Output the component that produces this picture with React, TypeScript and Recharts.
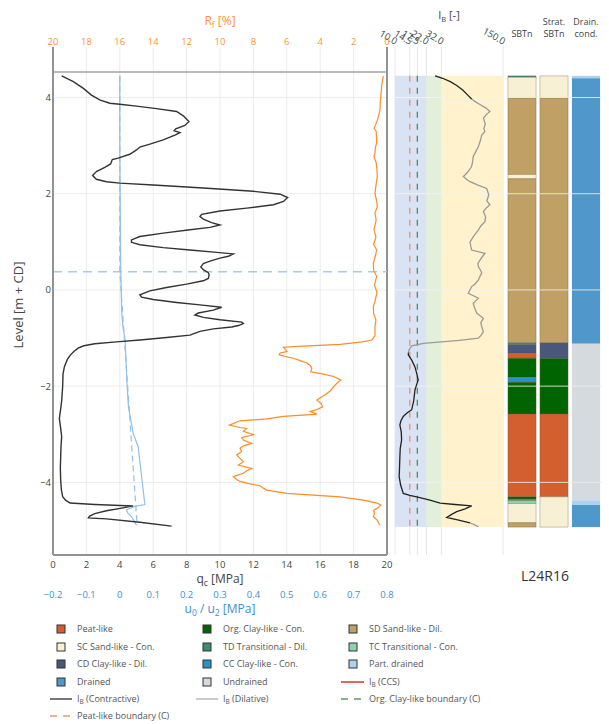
import React from 'react';
import {
  ScatterChart,
  Scatter,
  XAxis,
  YAxis,
  CartesianGrid,
  ReferenceLine,
  ReferenceArea,
} from 'recharts';

const FONT = '"Open Sans", "DejaVu Sans", sans-serif';
const ORANGE = '#ff9233';
const ORANGE_LINE = '#ff8c26';
const BLUE = '#3d8fd1';
const BLUE_LINE = '#92c0e6';
const TEXT = '#444';

// ---- axis ticks ----
const qcTicks = [0, 2, 4, 6, 8, 10, 12, 14, 16, 18, 20];
const rfTicks = [20, 18, 16, 14, 12, 10, 8, 6, 4, 2, 0];
const uTicks = [-0.2, -0.1, 0, 0.1, 0.2, 0.3, 0.4, 0.5, 0.6, 0.7, 0.8];
const levelTicks = [-4, -2, 0, 2, 4];
const ibTicks = [10, 14.5, 17.5, 22, 32, 150];
const levelDomain: [number, number] = [-5.51, 5.05];

// ---- site levels ----
const groundLevel = 4.53;
const waterLevel = 0.38;
const profileTop = 4.45;
const profileBottom = -4.93;

// ---- cone resistance qc [MPa] : [level, qc] ----
const qcProfile: [number, number][] = [
  [4.45, 0.52], [4.33, 1.22], [4.19, 1.82], [4.05, 2.3], [3.95, 2.8], [3.88, 3.4],
  [3.86, 4.0], [3.82, 5.0], [3.77, 6.2], [3.71, 7.4], [3.62, 7.8], [3.5, 8.14],
  [3.42, 7.9], [3.35, 7.35], [3.31, 7.25], [3.27, 7.6], [3.22, 7.3], [3.12, 6.6],
  [3.03, 5.8], [2.97, 5.2], [2.91, 5.0], [2.82, 4.6], [2.74, 3.9], [2.71, 3.55],
  [2.62, 3.45], [2.55, 3.1], [2.46, 2.6], [2.38, 2.37], [2.3, 2.6], [2.25, 3.2],
  [2.22, 4.0], [2.18, 6.0], [2.12, 9.0], [2.05, 12.0], [1.99, 13.6], [1.92, 14.05],
  [1.84, 13.8], [1.77, 13.2], [1.7, 11.6], [1.64, 10.0], [1.57, 8.9], [1.53, 8.8],
  [1.47, 9.0], [1.4, 9.5], [1.35, 10.0], [1.3, 9.4], [1.25, 8.2], [1.18, 6.6],
  [1.11, 5.2], [1.04, 4.7], [0.99, 4.7], [0.94, 5.2], [0.88, 6.6], [0.83, 8.2],
  [0.78, 9.8], [0.75, 10.8], [0.7, 10.5], [0.66, 10.0], [0.6, 9.4], [0.55, 9.0],
  [0.48, 8.85], [0.42, 9.0], [0.36, 9.3], [0.31, 9.35], [0.24, 9.3], [0.19, 9.0],
  [0.12, 8.0], [0.05, 6.8], [-0.02, 5.8], [-0.1, 5.2], [-0.15, 5.3], [-0.2, 6.0],
  [-0.26, 7.4], [-0.31, 8.8], [-0.36, 10.1], [-0.42, 9.6], [-0.48, 8.7], [-0.52, 8.5],
  [-0.57, 9.0], [-0.62, 10.0], [-0.67, 11.3], [-0.7, 11.4], [-0.74, 11.1], [-0.77, 10.7],
  [-0.81, 9.6], [-0.86, 8.8], [-0.94, 8.2], [-0.99, 6.8], [-1.04, 5.2], [-1.08, 3.8],
  [-1.12, 2.5], [-1.16, 1.85], [-1.21, 1.5], [-1.28, 1.25], [-1.35, 1.05], [-1.45, 0.85],
  [-1.6, 0.68], [-1.75, 0.6], [-2.0, 0.58], [-2.3, 0.52], [-2.5, 0.45], [-2.67, 0.38],
  [-2.85, 0.45], [-3.05, 0.52], [-3.25, 0.48], [-3.47, 0.46], [-3.7, 0.44], [-3.95, 0.46],
  [-4.15, 0.5], [-4.3, 0.58], [-4.37, 0.75], [-4.43, 1.02], [-4.46, 2.5], [-4.49, 4.8],
  [-4.53, 4.2], [-4.59, 3.2], [-4.65, 2.5], [-4.7, 2.2], [-4.74, 2.12], [-4.76, 3.2],
  [-4.83, 5.2], [-4.91, 7.1],
];

// ---- friction ratio Rf [%] : [level, Rf] ----
const rfProfile: [number, number][] = [
  [4.45, 0.22], [4.3, 0.3], [4.1, 0.35], [3.9, 0.4], [3.74, 0.42], [3.55, 0.55],
  [3.4, 0.72], [3.36, 0.78], [3.3, 0.65], [3.15, 0.62], [3.06, 0.62], [2.95, 0.7],
  [2.85, 0.72], [2.77, 0.78], [2.65, 0.65], [2.5, 0.6], [2.36, 0.58], [2.2, 0.65],
  [2.01, 0.72], [1.85, 0.62], [1.73, 0.58], [1.6, 0.72], [1.45, 0.65], [1.25, 0.78],
  [1.1, 0.66], [0.95, 0.8], [0.83, 0.62], [0.7, 0.7], [0.55, 0.82], [0.41, 0.8],
  [0.28, 0.62], [0.1, 0.75], [-0.05, 0.6], [-0.24, 0.72], [-0.35, 0.82], [-0.5, 0.8],
  [-0.62, 0.66], [-0.76, 0.72], [-0.95, 0.72], [-1.04, 0.9], [-1.08, 1.5], [-1.13, 2.8],
  [-1.17, 5.0], [-1.19, 6.2], [-1.23, 6.1], [-1.28, 6.0], [-1.31, 6.4], [-1.35, 6.45],
  [-1.4, 5.9], [-1.42, 5.6], [-1.47, 5.2], [-1.52, 4.8], [-1.57, 4.6], [-1.63, 4.5],
  [-1.7, 4.57], [-1.75, 3.8], [-1.8, 3.2], [-1.87, 2.77], [-1.94, 3.0], [-2.01, 3.2],
  [-2.1, 3.4], [-2.18, 3.7], [-2.24, 4.0], [-2.29, 4.2], [-2.36, 3.95], [-2.43, 3.85],
  [-2.5, 4.3], [-2.53, 4.6], [-2.58, 4.2], [-2.63, 6.2], [-2.68, 7.2], [-2.72, 8.8],
  [-2.81, 9.44], [-2.86, 8.8], [-2.88, 8.4], [-2.94, 8.6], [-3.01, 8.0], [-3.07, 8.7],
  [-3.12, 8.6], [-3.19, 8.1], [-3.24, 8.6], [-3.29, 8.8], [-3.36, 8.7], [-3.43, 9.0],
  [-3.5, 8.8], [-3.57, 8.6], [-3.64, 8.9], [-3.71, 8.1], [-3.76, 8.4], [-3.81, 8.6],
  [-3.88, 9.2], [-3.94, 9.0], [-3.98, 8.8], [-4.03, 8.2], [-4.07, 7.6], [-4.12, 7.4],
  [-4.16, 7.2], [-4.23, 6.0], [-4.3, 2.8], [-4.37, 1.42], [-4.43, 0.6], [-4.47, 0.38],
  [-4.52, 0.5], [-4.58, 0.8], [-4.65, 0.75], [-4.71, 0.82], [-4.78, 0.6], [-4.89, 0.42],
];

// ---- pore pressure u2 [MPa] : [level, u2] ----
const u2Profile: [number, number][] = [
  [4.45, 0.0], [3.0, 0.0], [1.0, 0.002], [0.38, 0.003], [-0.5, 0.006], [-0.8, 0.01],
  [-1.04, 0.016], [-1.4, 0.018], [-2.0, 0.022], [-2.43, 0.026], [-2.98, 0.04],
  [-3.26, 0.055], [-4.46, 0.075], [-4.5, 0.045], [-4.57, 0.02], [-4.64, 0.024],
  [-4.71, 0.035], [-4.89, 0.05],
];

// ---- hydrostatic pressure u0 [MPa] : [level, u0] ----
const u0Profile: [number, number][] = [
  [4.45, 0.0], [0.38, 0.0], [-4.9, 0.052],
];

// ---- behaviour index IB [-] : [level, IB] ----
const ibContractiveTop: [number, number][] = [
  [4.45, 27.3], [4.4, 33], [4.33, 40], [4.25, 47], [4.15, 55], [4.05, 62], [3.97, 68.4],
];
const ibDilative: [number, number][] = [
  [3.97, 68.4], [3.92, 74], [3.85, 85], [3.78, 98], [3.71, 108], [3.64, 98], [3.57, 92],
  [3.45, 96], [3.35, 93], [3.29, 95], [3.22, 88], [3.1, 85], [2.98, 81], [2.88, 76],
  [2.77, 71], [2.66, 70], [2.56, 68], [2.45, 62], [2.39, 57.7], [2.36, 55.5], [2.3, 60],
  [2.25, 65.6], [2.18, 80], [2.11, 99.6], [1.98, 105], [1.85, 100], [1.77, 108], [1.7, 98],
  [1.63, 91.7], [1.52, 97], [1.42, 95.4], [1.33, 86], [1.25, 81], [1.12, 72], [1.0, 65.6],
  [0.9, 67], [0.83, 68.4], [0.76, 95.4], [0.7, 90], [0.62, 84.2], [0.55, 80], [0.48, 81],
  [0.4, 86], [0.35, 88], [0.28, 84], [0.21, 81], [0.12, 74], [0.07, 68.4], [-0.07, 62.8],
  [-0.17, 81], [-0.28, 71], [-0.38, 74], [-0.48, 77.5], [-0.59, 91.7], [-0.68, 86],
  [-0.76, 88], [-0.87, 91.7], [-0.95, 86], [-1.0, 81], [-1.05, 50], [-1.11, 20.4],
  [-1.16, 15.2], [-1.25, 14.2], [-1.3, 14.0],
];
const ibContractiveBottom: [number, number][] = [
  [-1.3, 14.0], [-1.35, 13.96], [-1.46, 15.2], [-1.6, 16.5], [-1.73, 17.2], [-1.87, 17.9],
  [-2.0, 17.0], [-2.08, 16.5], [-2.3, 16.0], [-2.49, 15.2], [-2.56, 13.5], [-2.63, 12.3],
  [-2.72, 11.6], [-2.81, 11.3], [-2.95, 11.7], [-3.12, 11.8], [-3.3, 11.4], [-3.47, 11.3],
  [-3.7, 11.2], [-3.88, 11.1], [-4.05, 11.5], [-4.23, 12.3], [-4.27, 14.5], [-4.3, 17.2],
  [-4.37, 24], [-4.43, 31], [-4.46, 45], [-4.49, 68.4], [-4.55, 58], [-4.61, 47],
  [-4.67, 41], [-4.73, 36.6], [-4.78, 48], [-4.84, 65.6],
];
const ibDilativeBottom: [number, number][] = [
  [-4.84, 65.6], [-4.92, 81],
];

// ---- IB zones and boundaries ----
const ibZones: [number, number, string][] = [
  [10, 22, '#dae3f3'],
  [22, 32, '#e2efda'],
  [32, 150, '#fff2cc'],
];
const peatBoundary = 14.5;
const orgClayBoundary = 17.5;

// ---- soil classes ----
const soilColors: Record<string, string> = {
  PEAT: '#d35f2f',
  OC: '#006400',
  SD: '#c0a064',
  SC: '#f8f0d4',
  TD: '#3c8c76',
  TC: '#92d1b0',
  CD: '#48577a',
  CC: '#2893c4',
  PD: '#a9d3f0',
  DR: '#5098c9',
  UD: '#d5dadf',
};

// layers: [top level, bottom level, class]
const sbtnLayers: [number, number, string][] = [
  [4.45, 4.42, 'TD'], [4.42, 3.99, 'SC'], [3.99, 2.4, 'SD'], [2.4, 2.31, 'SC'],
  [2.31, -1.1, 'SD'], [-1.1, -1.14, 'TD'], [-1.14, -1.32, 'CD'], [-1.32, -1.42, 'PEAT'],
  [-1.42, -1.82, 'OC'], [-1.82, -1.92, 'CC'], [-1.92, -2.58, 'OC'], [-2.58, -4.3, 'PEAT'],
  [-4.3, -4.35, 'OC'], [-4.35, -4.38, 'TD'], [-4.38, -4.44, 'TC'], [-4.44, -4.84, 'SC'],
  [-4.84, -4.93, 'SD'],
];
const stratLayers: [number, number, string][] = [
  [4.45, 3.99, 'SC'], [3.99, -1.1, 'SD'], [-1.1, -1.42, 'CD'], [-1.42, -2.58, 'OC'],
  [-2.58, -4.3, 'PEAT'], [-4.3, -4.93, 'SC'],
];
const drainLayers: [number, number, string][] = [
  [4.45, 4.4, 'PD'], [4.4, -1.12, 'DR'], [-1.12, -4.38, 'UD'], [-4.38, -4.47, 'PD'],
  [-4.47, -4.93, 'DR'],
];
const columns = [
  { layers: sbtnLayers, title: ['SBTn'], outline: true },
  { layers: stratLayers, title: ['Strat.', 'SBTn'], outline: true },
  { layers: drainLayers, title: ['Drain.', 'cond.'], outline: false },
];

const testName = 'L24R16';

// ---- legend ----
type LegendItem = { label: string; sub?: string; rest?: string; kind: 'box' | 'line'; color: string; dash?: string };
const legendItems: LegendItem[] = [
  { label: 'Peat-like', kind: 'box', color: soilColors.PEAT },
  { label: 'Org. Clay-like - Con.', kind: 'box', color: soilColors.OC },
  { label: 'SD Sand-like - Dil.', kind: 'box', color: soilColors.SD },
  { label: 'SC Sand-like - Con.', kind: 'box', color: soilColors.SC },
  { label: 'TD Transitional - Dil.', kind: 'box', color: soilColors.TD },
  { label: 'TC Transitional - Con.', kind: 'box', color: soilColors.TC },
  { label: 'CD Clay-like - Dil.', kind: 'box', color: soilColors.CD },
  { label: 'CC Clay-like - Con.', kind: 'box', color: soilColors.CC },
  { label: 'Part. drained', kind: 'box', color: soilColors.PD },
  { label: 'Drained', kind: 'box', color: soilColors.DR },
  { label: 'Undrained', kind: 'box', color: soilColors.UD },
  { label: 'I', sub: 'B', rest: ' (CCS)', kind: 'line', color: '#e8393a' },
  { label: 'I', sub: 'B', rest: ' (Contractive)', kind: 'line', color: '#555' },
  { label: 'I', sub: 'B', rest: ' (Dilative)', kind: 'line', color: '#bdbdbd' },
  { label: 'Org. Clay-like boundary (C)', kind: 'line', color: '#5aa05a', dash: '7 6' },
  { label: 'Peat-like boundary (C)', kind: 'line', color: '#f29274', dash: '7 6' },
];

const toPoints = (arr: [number, number][], key: string) =>
  arr.map(([lvl, v]) => ({ lvl, [key]: v }));

// one anchor point per layer, so the column axes carry data
const columnAnchors = columns.flatMap((col, ci) =>
  col.layers.map(([top]) => ({ col: ci + 0.5, lvl: top }))
);

const noDot = () => <g />;
const minus = (v: number) => (v < 0 ? `\u2212${Math.abs(v)}` : `${v}`);

const IbTick = (props: any) => {
  const { x, y, payload } = props;
  return (
    <text
      x={x}
      y={y}
      transform={`rotate(30 ${x} ${y})`}
      textAnchor="end"
      fontSize={9.5}
      fill={TEXT}
      fontFamily={FONT}
    >
      {Number(payload.value).toFixed(1)}
    </text>
  );
};

const W = 609;
const CH = 620;

function MainChart() {
  return (
    <ScatterChart width={400} height={CH} margin={{ top: 0, right: 13, bottom: 7, left: 0 }}>
      <CartesianGrid xAxisId="qc" yAxisId="lvl" stroke="#ececec" verticalValues={qcTicks} horizontalValues={levelTicks} />
      <XAxis
        xAxisId="rf" orientation="top" type="number" dataKey="rf" domain={[0, 20]} reversed
        ticks={rfTicks} interval={0} height={47} tickSize={0} tickMargin={2} axisLine={false}
        tick={{ fill: ORANGE, fontSize: 9.5, fontFamily: FONT }}
      />
      <XAxis
        xAxisId="qc" orientation="bottom" type="number" dataKey="qc" domain={[0, 20]}
        ticks={qcTicks} interval={0} height={28} tickSize={0} tickMargin={6} tickLine={false}
        axisLine={{ stroke: '#929292', strokeWidth: 2 }}
        tick={{ fill: TEXT, fontSize: 9.5, fontFamily: FONT }}
      />
      <XAxis
        xAxisId="u" orientation="bottom" type="number" dataKey="u" domain={[-0.2, 0.8]}
        ticks={uTicks} interval={0} height={30} tickSize={0} tickMargin={8} tickLine={false}
        axisLine={false} tickFormatter={minus}
        tick={{ fill: BLUE, fontSize: 9.5, fontFamily: FONT }}
      />
      <YAxis
        yAxisId="lvl" type="number" dataKey="lvl" domain={levelDomain} ticks={levelTicks}
        interval={0} width={53} tickSize={0} tickMargin={2} tickLine={false}
        axisLine={{ stroke: '#929292', strokeWidth: 2 }} tickFormatter={minus}
        tick={{ fill: TEXT, fontSize: 9.5, fontFamily: FONT }}
      />
      <ReferenceLine xAxisId="qc" yAxisId="lvl" x={20} stroke="#929292" strokeWidth={2} />
      <ReferenceLine xAxisId="qc" yAxisId="lvl" y={groundLevel} stroke="#a3a3a3" strokeWidth={1.5} />
      <ReferenceLine xAxisId="qc" yAxisId="lvl" y={waterLevel} stroke="#a7cbea" strokeWidth={1.5} strokeDasharray="9 6" />
      <Scatter
        xAxisId="u" yAxisId="lvl" data={toPoints(u0Profile, 'u')} shape={noDot} lineType="joint"
        line={{ stroke: BLUE_LINE, strokeWidth: 1.2, strokeDasharray: '6 4' }} isAnimationActive={false}
      />
      <Scatter
        xAxisId="u" yAxisId="lvl" data={toPoints(u2Profile, 'u')} shape={noDot} lineType="joint"
        line={{ stroke: BLUE_LINE, strokeWidth: 1.2 }} isAnimationActive={false}
      />
      <Scatter
        xAxisId="rf" yAxisId="lvl" data={toPoints(rfProfile, 'rf')} shape={noDot} lineType="joint"
        line={{ stroke: ORANGE_LINE, strokeWidth: 1.2 }} isAnimationActive={false}
      />
      <Scatter
        xAxisId="qc" yAxisId="lvl" data={toPoints(qcProfile, 'qc')} shape={noDot} lineType="joint"
        line={{ stroke: '#333', strokeWidth: 1.4 }} isAnimationActive={false}
      />
    </ScatterChart>
  );
}

function IbChart() {
  return (
    <ScatterChart width={W} height={CH} margin={{ top: 0, right: 106, bottom: 65, left: 395 }}>
      <CartesianGrid xAxisId="ib" yAxisId="lvl" stroke="#e6e6e6" horizontal={false} verticalValues={ibTicks} />
      <XAxis
        xAxisId="ib" orientation="top" type="number" scale="log" dataKey="ib" domain={[10, 150]}
        ticks={ibTicks} interval={0} height={47} tickSize={0} tickMargin={2} axisLine={false}
        tickLine={false} tick={<IbTick />} allowDataOverflow
      />
      <YAxis yAxisId="lvl" hide type="number" dataKey="lvl" domain={levelDomain} />
      {ibZones.map(([a, b, c]) => (
        <ReferenceArea
          key={a} xAxisId="ib" yAxisId="lvl" x1={a} x2={b} y1={profileTop} y2={profileBottom}
          fill={c} fillOpacity={1} stroke="none"
        />
      ))}
      {levelTicks.map((v) => (
        <ReferenceLine key={v} xAxisId="ib" yAxisId="lvl" y={v} stroke="#f2f2f2" strokeWidth={1} />
      ))}
      <ReferenceLine
        xAxisId="ib" yAxisId="lvl" stroke="#ee8c6e" strokeWidth={1.3} strokeDasharray="6 6"
        segment={[{ x: peatBoundary, y: profileTop }, { x: peatBoundary, y: profileBottom }]}
      />
      <ReferenceLine
        xAxisId="ib" yAxisId="lvl" stroke="#3f9a4f" strokeWidth={1.3} strokeDasharray="6 6"
        segment={[{ x: orgClayBoundary, y: profileTop }, { x: orgClayBoundary, y: profileBottom }]}
      />
      {[ibDilative, ibDilativeBottom].map((d, i) => (
        <Scatter
          key={`d${i}`} xAxisId="ib" yAxisId="lvl" data={toPoints(d, 'ib')} shape={noDot}
          lineType="joint" line={{ stroke: '#9a9a9a', strokeWidth: 1.3 }} isAnimationActive={false}
        />
      ))}
      {[ibContractiveTop, ibContractiveBottom].map((d, i) => (
        <Scatter
          key={`c${i}`} xAxisId="ib" yAxisId="lvl" data={toPoints(d, 'ib')} shape={noDot}
          lineType="joint" line={{ stroke: '#222', strokeWidth: 1.3 }} isAnimationActive={false}
        />
      ))}
    </ScatterChart>
  );
}

function ColumnChart() {
  return (
    <ScatterChart width={W} height={CH} margin={{ top: 47, right: 7, bottom: 65, left: 506 }}>
      <XAxis xAxisId="col" hide type="number" dataKey="col" domain={[0, 3]} allowDataOverflow />
      <YAxis yAxisId="lvl" hide type="number" dataKey="lvl" domain={levelDomain} allowDataOverflow />
      <Scatter xAxisId="col" yAxisId="lvl" data={columnAnchors} shape={noDot} isAnimationActive={false} />
      {columns.map((col, ci) =>
        col.layers.map(([top, bot, cls], li) => (
          <ReferenceArea
            key={`${ci}-${li}`} xAxisId="col" yAxisId="lvl" x1={ci + 0.06} x2={ci + 0.94}
            y1={top} y2={bot} fill={soilColors[cls]} fillOpacity={1}
            stroke={col.outline ? 'rgba(110,95,60,0.35)' : 'none'} strokeWidth={1}
          />
        ))
      )}
      {levelTicks.map((v) => (
        <ReferenceLine key={v} xAxisId="col" yAxisId="lvl" y={v} stroke="#ececec" strokeOpacity={0.85} strokeWidth={1} />
      ))}
    </ScatterChart>
  );
}

function Overlay() {
  const rowY = [629, 647, 664, 682, 699, 716];
  const boxX = [61, 207, 353];
  const textX = [77, 223, 369];
  const lineX: [number, number][] = [[50, 72], [196, 218], [341, 364]];
  return (
    <svg width={W} height={724} style={{ position: 'absolute', left: 0, top: 0, pointerEvents: 'none' }} fontFamily={FONT}>
      <text x={220} y={25} textAnchor="middle" fontSize={12} fill={ORANGE}>
        R<tspan fontSize={8.5} dy={3}>f</tspan><tspan dy={-3}> [%]</tspan>
      </text>
      <text x={220} y={583} textAnchor="middle" fontSize={12} fill={TEXT}>
        q<tspan fontSize={8.5} dy={3}>c</tspan><tspan dy={-3}> [MPa]</tspan>
      </text>
      <text x={220} y={613} textAnchor="middle" fontSize={12} fill={BLUE}>
        u<tspan fontSize={8.5} dy={3}>0</tspan><tspan dy={-3}> / u</tspan>
        <tspan fontSize={8.5} dy={3}>2</tspan><tspan dy={-3}> [MPa]</tspan>
      </text>
      <text x={18} y={305} textAnchor="middle" dominantBaseline="central" fontSize={13} fill={TEXT} transform="rotate(-90 18 305)">
        Level [m + CD]
      </text>
      <text x={449} y={19} textAnchor="middle" fontSize={11} fill={TEXT}>
        I<tspan fontSize={7.5} dy={2.5}>B</tspan><tspan dy={-2.5}> [-]</tspan>
      </text>
      {columns.map((col, i) => {
        const cx = 522 + i * 32;
        const lines = col.title;
        return lines.map((t, j) => (
          <text key={`${i}-${j}`} x={cx} y={36.5 - (lines.length - 1 - j) * 12} textAnchor="middle" fontSize={9} fill={TEXT}>
            {t}
          </text>
        ));
      })}
      <text x={545} y={581} textAnchor="middle" fontSize={14} fill="#333">{testName}</text>
      {legendItems.map((it, i) => {
        const r = Math.floor(i / 3);
        const c = i % 3;
        const y = rowY[r];
        return (
          <g key={i}>
            {it.kind === 'box' ? (
              <rect x={boxX[c] - 4} y={y - 4} width={8} height={8} fill={it.color} stroke="#333" strokeWidth={1} />
            ) : (
              <line x1={lineX[c][0]} x2={lineX[c][1]} y1={y} y2={y} stroke={it.color} strokeWidth={1.6} strokeDasharray={it.dash} />
            )}
            <text x={textX[c]} y={y + 3.3} fontSize={9} fill="#555">
              {it.label}
              {it.sub ? <tspan fontSize={6.5} dy={2}>{it.sub}</tspan> : null}
              {it.rest ? <tspan dy={it.sub ? -2 : 0}>{it.rest}</tspan> : null}
            </text>
          </g>
        );
      })}
    </svg>
  );
}

export default function App() {
  return (
    <div style={{ position: 'absolute', left: 0, top: 0, width: W, height: 724, background: '#fff', fontFamily: FONT }}>
      <div style={{ position: 'absolute', left: 0, top: 0 }}><IbChart /></div>
      <div style={{ position: 'absolute', left: 0, top: 0 }}><ColumnChart /></div>
      <div style={{ position: 'absolute', left: 0, top: 0 }}><MainChart /></div>
      <Overlay />
    </div>
  );
}
